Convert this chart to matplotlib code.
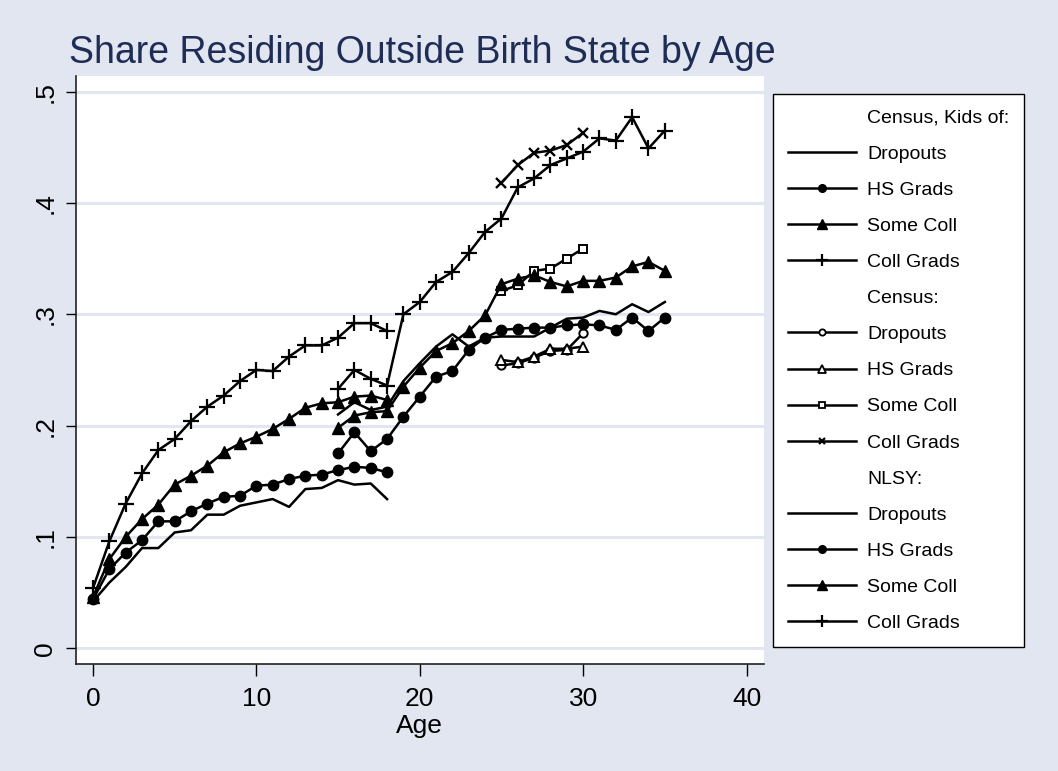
import matplotlib.pyplot as plt
from matplotlib.lines import Line2D

plt.rcParams['font.family'] = ['Liberation Sans', 'DejaVu Sans']

# ages covered by each source
age_kids = list(range(0, 19))
age_census = list(range(25, 31))
age_nlsy = list(range(15, 36))

# Census, kids of ...
kids_dropouts = [0.042, 0.059, 0.073, 0.090, 0.090, 0.104, 0.106, 0.120, 0.120, 0.128,
                 0.131, 0.134, 0.127, 0.143, 0.144, 0.151, 0.147, 0.148, 0.134]
kids_hsgrads = [0.044, 0.071, 0.086, 0.097, 0.114, 0.114, 0.123, 0.130, 0.136, 0.137,
                0.146, 0.147, 0.152, 0.155, 0.156, 0.160, 0.163, 0.162, 0.158]
kids_somecoll = [0.046, 0.080, 0.100, 0.116, 0.129, 0.147, 0.155, 0.164, 0.176, 0.184,
                 0.190, 0.197, 0.206, 0.216, 0.220, 0.221, 0.226, 0.227, 0.223]
kids_collgrads = [0.054, 0.096, 0.130, 0.157, 0.178, 0.188, 0.204, 0.217, 0.227, 0.240,
                  0.250, 0.249, 0.262, 0.272, 0.272, 0.279, 0.292, 0.292, 0.285]

# Census (own education)
census_dropouts = [0.254, 0.256, 0.261, 0.267, 0.268, 0.283]
census_hsgrads = [0.259, 0.257, 0.262, 0.269, 0.269, 0.271]
census_somecoll = [0.321, 0.326, 0.339, 0.341, 0.350, 0.359]
census_collgrads = [0.418, 0.434, 0.445, 0.447, 0.452, 0.463]

# NLSY
nlsy_dropouts = [0.210, 0.221, 0.214, 0.217, 0.240, 0.256, 0.271, 0.282, 0.271, 0.279,
                 0.280, 0.280, 0.280, 0.288, 0.296, 0.297, 0.303, 0.300, 0.309, 0.302, 0.311]
nlsy_hsgrads = [0.175, 0.194, 0.177, 0.188, 0.208, 0.226, 0.244, 0.249, 0.268, 0.279,
                0.286, 0.287, 0.288, 0.288, 0.290, 0.291, 0.290, 0.286, 0.297, 0.285, 0.297]
nlsy_somecoll = [0.198, 0.209, 0.212, 0.213, 0.235, 0.252, 0.267, 0.274, 0.285, 0.299,
                 0.327, 0.332, 0.335, 0.329, 0.325, 0.330, 0.330, 0.333, 0.343, 0.347, 0.339]
nlsy_collgrads = [0.233, 0.250, 0.242, 0.236, 0.300, 0.311, 0.329, 0.338, 0.355, 0.374,
                  0.386, 0.414, 0.422, 0.434, 0.440, 0.446, 0.458, 0.456, 0.477, 0.449, 0.465]

xticks = [0, 10, 20, 30, 40]
yticks = [0, 0.1, 0.2, 0.3, 0.4, 0.5]
ytick_labels = ['0', '.1', '.2', '.3', '.4', '.5']

bg = '#e1e6f0'
title_color = '#1f2d56'

# marker styles used on the plot
styles = {
    'line': dict(marker=None),
    'dot': dict(marker='o', ms=7.5, mfc='black', mec='black'),
    'tri': dict(marker='^', ms=9, mfc='black', mec='black'),
    'plus': dict(marker='+', ms=12, mew=1.6),
    'odot': dict(marker='o', ms=6, mfc='white', mec='black', mew=1.4),
    'otri': dict(marker='^', ms=7, mfc='white', mec='black', mew=1.4),
    'osq': dict(marker='s', ms=6, mfc='white', mec='black', mew=1.4),
    'x': dict(marker='x', ms=7, mew=1.7),
}

fig = plt.figure(figsize=(10.58, 7.71), dpi=100, facecolor=bg)
ax = fig.add_axes([75.5 / 1058, 1 - 664.3 / 771, 688 / 1058, 588.3 / 771])
ax.set_facecolor('white')

series = [
    (age_kids, kids_dropouts, 'line'),
    (age_kids, kids_hsgrads, 'dot'),
    (age_kids, kids_somecoll, 'tri'),
    (age_kids, kids_collgrads, 'plus'),
    (age_census, census_dropouts, 'odot'),
    (age_census, census_hsgrads, 'otri'),
    (age_census, census_somecoll, 'osq'),
    (age_census, census_collgrads, 'x'),
    (age_nlsy, nlsy_dropouts, 'line'),
    (age_nlsy, nlsy_hsgrads, 'dot'),
    (age_nlsy, nlsy_somecoll, 'tri'),
    (age_nlsy, nlsy_collgrads, 'plus'),
]
for x, y, st in series:
    ax.plot(x, y, color='black', lw=1.8, zorder=3, **styles[st])

ax.set_xlim(-1.07, 41.04)
ax.set_ylim(-0.0144, 0.514)
ax.set_xticks(xticks)
ax.set_yticks(yticks)
ax.set_yticklabels(ytick_labels)
for lab in ax.get_yticklabels():
    lab.set_rotation(90)
    lab.set_va('center')
ax.tick_params(axis='x', length=8.5, width=1, pad=8, labelsize=19)
ax.tick_params(axis='y', length=7, width=1, pad=6, labelsize=19)
ax.grid(axis='y', color=bg, lw=2.2, zorder=0)
ax.set_axisbelow(True)
for side in ['top', 'right']:
    ax.spines[side].set_visible(False)
for side in ['left', 'bottom']:
    ax.spines[side].set_color('#222222')
    ax.spines[side].set_linewidth(1.2)

ax.set_xlabel('Age', fontsize=19, labelpad=2)

fig.text(69 / 1058, 1 - 63 / 771, 'Share Residing Outside Birth State by Age',
         fontsize=27, color=title_color, va='baseline', ha='left')

# legend: headers have no symbol, legend markers are a bit smaller
leg_styles = {
    'line': dict(marker=None),
    'dot': dict(marker='o', ms=5.5, mfc='black', mec='black'),
    'tri': dict(marker='^', ms=6.5, mfc='black', mec='black'),
    'plus': dict(marker='+', ms=9, mew=1.6),
    'odot': dict(marker='o', ms=4.5, mfc='white', mec='black', mew=1.3),
    'otri': dict(marker='^', ms=5.5, mfc='white', mec='black', mew=1.3),
    'osq': dict(marker='s', ms=4.5, mfc='white', mec='black', mew=1.3),
    'x': dict(marker='x', ms=5, mew=1.6),
}
groups = [
    ('Census, Kids of:', ['line', 'dot', 'tri', 'plus']),
    ('Census:', ['odot', 'otri', 'osq', 'x']),
    ('NLSY:', ['line', 'dot', 'tri', 'plus']),
]
names = ['Dropouts', 'HS Grads', 'Some Coll', 'Coll Grads']
handles, labels = [], []
for header, sts in groups:
    handles.append(Line2D([], [], color='none'))
    labels.append(header)
    for name, st in zip(names, sts):
        handles.append(Line2D([], [], color='black', lw=1.8, **leg_styles[st]))
        labels.append(name)

leg = fig.legend(handles, labels, loc='upper left',
                 bbox_to_anchor=(773 / 1058, 1 - 94 / 771), fontsize=14,
                 frameon=True, fancybox=False, edgecolor='black', framealpha=1,
                 handlelength=3.5, handletextpad=0.55, labelspacing=0.95,
                 borderpad=0.78, borderaxespad=0)
leg.get_frame().set_linewidth(1.0)

fig.savefig('out.png', dpi=100, facecolor=bg)
